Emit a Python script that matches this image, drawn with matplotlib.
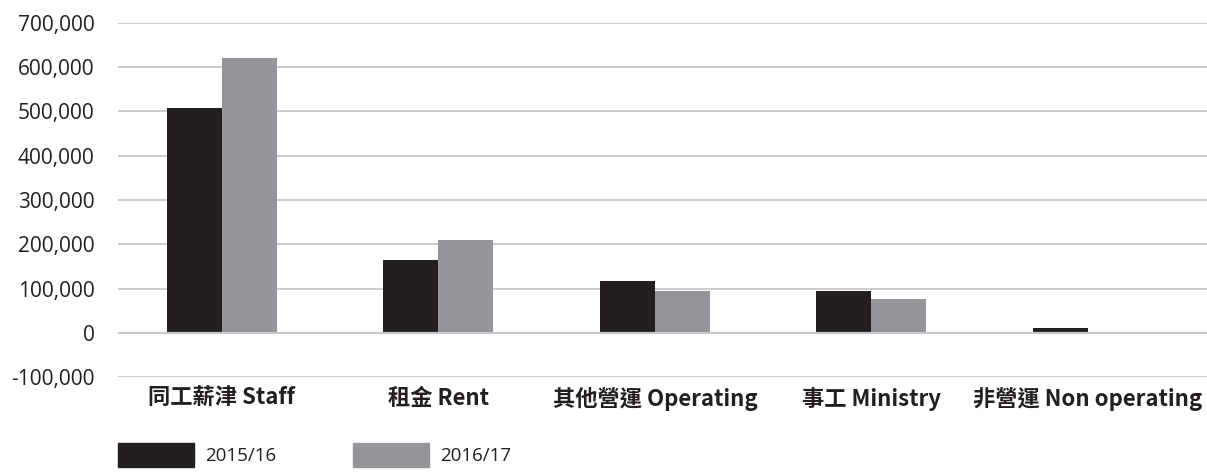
import matplotlib
matplotlib.use("Agg")
import matplotlib.pyplot as plt
from matplotlib.patches import Patch
from matplotlib.ticker import FuncFormatter
import numpy as np

categories = ["同工薪津 Staff", "租金 Rent", "其他營運 Operating", "事工 Ministry", "非營運 Non operating"]
series_names = ["2015/16", "2016/17"]
values_1516 = [508000, 165000, 117000, 94000, 10500]
values_1617 = [621000, 210000, 94500, 76000, 1500]

color1 = "#231f20"
color2 = "#939598"
grid_color = "#c8c8ca"

plt.rcParams['font.family'] = ['Open Sans', 'Noto Sans CJK TC', 'DejaVu Sans']

fig = plt.figure(figsize=(12.07, 4.73), dpi=100)
ax = fig.add_axes([118 / 1207, 1 - 377 / 473, 1 - 118 / 1207, (377 - 23) / 473])

x = np.arange(len(categories))
w = 0.254
ax.bar(x - w / 2, values_1516, width=w, color=color1, zorder=3)
ax.bar(x + w / 2, values_1617, width=w, color=color2, zorder=3)

ax.set_xlim(-0.48, 4.55)
ax.set_ylim(-100000, 700000)
ax.set_yticks(np.arange(-100000, 700001, 100000))
ax.yaxis.set_major_formatter(FuncFormatter(lambda v, p: f"{int(v):,}"))
ax.grid(axis='y', color=grid_color, linewidth=1.3, zorder=0)
ax.axhline(0, color=grid_color, linewidth=1.6, zorder=4)

for s in ax.spines.values():
    s.set_visible(False)
ax.tick_params(axis='y', length=0, pad=17, labelsize=15, labelcolor=color1)
ax.tick_params(axis='x', length=0, pad=7, labelsize=16, labelcolor=color1)
ax.set_xticks(x)
ax.set_xticklabels(categories, fontweight='bold',
                   family=['Noto Sans CJK TC', 'DejaVu Sans'])

handles = [Patch(color=color1), Patch(color=color2)]
fig.legend(handles, series_names, loc='upper left',
           bbox_to_anchor=(118 / 1207, 1 - 443 / 473),
           ncol=2, frameon=False, fontsize=13.5, borderpad=0, borderaxespad=0,
           handlelength=4.05, handleheight=1.6, handletextpad=0.59,
           columnspacing=4.1, labelcolor=color1)

plt.savefig("out.png", dpi=100)
